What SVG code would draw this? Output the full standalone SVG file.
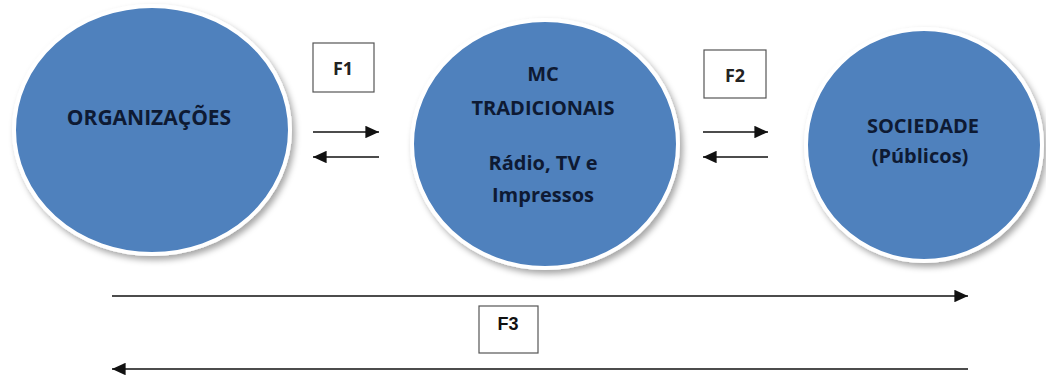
<svg xmlns="http://www.w3.org/2000/svg" width="1046" height="375" viewBox="0 0 1046 375">
<style>
.circ{fill:#4f81bd;stroke:#ffffff;stroke-width:4;filter:url(#sh)}
.ct{font-family:"Open Sans","Liberation Sans",sans-serif;font-weight:700;font-size:20px;fill:#0e1a33;text-anchor:middle}
.box{fill:#ffffff;stroke:#555555;stroke-width:1.2}
.bt{font-family:"Open Sans","Liberation Sans",sans-serif;font-weight:700;font-size:18px;fill:#222222;text-anchor:middle}
.bt3{font-family:"Liberation Sans",Arial,sans-serif;font-weight:700;font-size:18px;fill:#111111;text-anchor:middle}
.ln{stroke:#111111;stroke-width:1.6;fill:none}
</style>
<defs>
<filter id="sh" x="-10%" y="-10%" width="125%" height="125%">
<feDropShadow dx="3" dy="4" stdDeviation="3" flood-color="#000000" flood-opacity="0.35"/>
</filter>
<marker id="ah" viewBox="0 0 12 11" refX="12" refY="5.5" markerWidth="8.5" markerHeight="7.8" orient="auto-start-reverse" markerUnits="strokeWidth">
<path d="M0,0 L12,5.5 L0,11 Z" fill="#111111"/>
</marker>
</defs>
<rect width="1046" height="375" fill="#ffffff"/>
<g id="organizacoes">
<ellipse class="circ" cx="152" cy="130" rx="138" ry="124"/>
<text class="ct" x="149" y="125" style="font-size:21px">ORGANIZAÇÕES</text>
</g>
<g id="mc-tradicionais">
<ellipse class="circ" cx="545" cy="144" rx="133" ry="124"/>
<text class="ct" x="543" y="81">MC</text>
<text class="ct" x="543" y="115">TRADICIONAIS</text>
<text class="ct" x="543" y="170">Rádio, TV e</text>
<text class="ct" x="543" y="202">Impressos</text>
</g>
<g id="sociedade">
<ellipse class="circ" cx="924" cy="145" rx="118" ry="116"/>
<text class="ct" x="923" y="133">SOCIEDADE</text>
<text class="ct" x="920" y="163">(Públicos)</text>
</g>
<g id="f1">
<rect class="box" x="313" y="43" width="61" height="49"/>
<text class="bt" x="343" y="75">F1</text>
</g>
<g id="f2">
<rect class="box" x="704" y="50" width="62" height="48"/>
<text class="bt" x="735" y="82">F2</text>
</g>
<g id="f3">
<rect class="box" x="479" y="306" width="59" height="47"/>
<text class="bt3" x="508" y="330">F3</text>
</g>
<g id="connectors">
<line class="ln" x1="313" y1="132" x2="379" y2="132" marker-end="url(#ah)"/>
<line class="ln" x1="379" y1="157" x2="313" y2="157" marker-end="url(#ah)"/>
<line class="ln" x1="703" y1="132" x2="768" y2="132" marker-end="url(#ah)"/>
<line class="ln" x1="768" y1="157" x2="703" y2="157" marker-end="url(#ah)"/>
<line class="ln" x1="112" y1="296" x2="968" y2="296" marker-end="url(#ah)"/>
<line class="ln" x1="968" y1="369" x2="112" y2="369" marker-end="url(#ah)"/>
</g>
</svg>
